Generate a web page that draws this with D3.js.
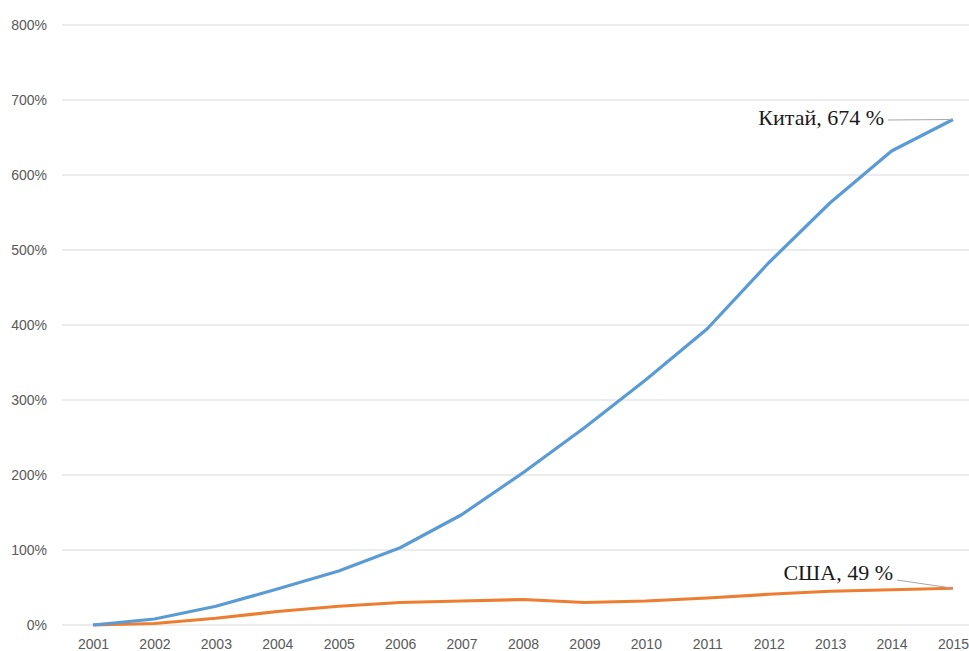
<!DOCTYPE html>
<html>
<head>
<meta charset="utf-8">
<script src="https://cdn.jsdelivr.net/npm/d3@7"></script>
<style>
  body { margin: 0; background: #fff; }
  svg { display: block; }
</style>
</head>
<body>
<svg width="969" height="651"></svg>
<script>
const years = [2001, 2002, 2003, 2004, 2005, 2006, 2007, 2008, 2009, 2010, 2011, 2012, 2013, 2014, 2015];
const china = [0, 8, 25, 48, 72, 103, 147, 203, 263, 327, 395, 483, 563, 632, 674];
const usa = [0, 2, 9, 18, 25, 30, 32, 34, 30, 32, 36, 41, 45, 47, 49];
const yTicks = [0, 100, 200, 300, 400, 500, 600, 700, 800];

const svg = d3.select('svg');

const x = d3.scalePoint().domain(years).range([93, 953]);
const y = d3.scaleLinear().domain([0, 800]).range([625, 25]);

// сетка
svg.append('g')
  .selectAll('line')
  .data(yTicks)
  .join('line')
  .attr('x1', 62)
  .attr('x2', 969)
  .attr('y1', d => y(d))
  .attr('y2', d => y(d))
  .attr('stroke', '#d9d9d9')
  .attr('stroke-width', 1);

// ось Y
let yAxis = svg.append('g')
  .attr('transform', 'translate(47,0)')
  .call(d3.axisLeft(y).tickValues(yTicks).tickFormat(d => d + '%').tickSize(0).tickPadding(0));
yAxis.select('.domain').remove();
yAxis.selectAll('text')
  .attr('fill', '#595959')
  .style('font-family', 'Liberation Sans, Arial, sans-serif')
  .style('font-size', '14px');

// ось X
let xAxis = svg.append('g')
  .attr('transform', 'translate(0,625)')
  .call(d3.axisBottom(x).tickSize(0).tickPadding(14).tickFormat(d3.format('d')));
xAxis.select('.domain').remove();
xAxis.selectAll('text')
  .attr('fill', '#595959')
  .style('font-family', 'Liberation Sans, Arial, sans-serif')
  .style('font-size', '14px');

const line = d3.line()
  .x((d, i) => x(years[i]))
  .y(d => y(d));

svg.append('path')
  .datum(usa)
  .attr('d', line)
  .attr('fill', 'none')
  .attr('stroke', '#ed7d31')
  .attr('stroke-width', 3.2)
  .attr('stroke-linejoin', 'round');

svg.append('path')
  .datum(china)
  .attr('d', line)
  .attr('fill', 'none')
  .attr('stroke', '#5b9bd5')
  .attr('stroke-width', 3.2)
  .attr('stroke-linejoin', 'round');

// подписи с выносками
const last = years.length - 1;
const labels = [
  { text: 'Китай, 674 %', v: china[last], tx: 884, ty: 125, lx: 888, ly: 120 },
  { text: 'США, 49 %', v: usa[last], tx: 893, ty: 580, lx: 897, ly: 580 }
];

labels.forEach(l => {
  svg.append('line')
    .attr('x1', l.lx)
    .attr('y1', l.ly)
    .attr('x2', x(years[last]))
    .attr('y2', y(l.v))
    .attr('stroke', '#a6a6a6')
    .attr('stroke-width', 1);
  svg.append('text')
    .attr('x', l.tx)
    .attr('y', l.ty)
    .attr('text-anchor', 'end')
    .attr('fill', '#1a1a1a')
    .style('font-family', 'Liberation Serif, Times New Roman, serif')
    .style('font-size', '22px')
    .text(l.text);
});
</script>
</body>
</html>
